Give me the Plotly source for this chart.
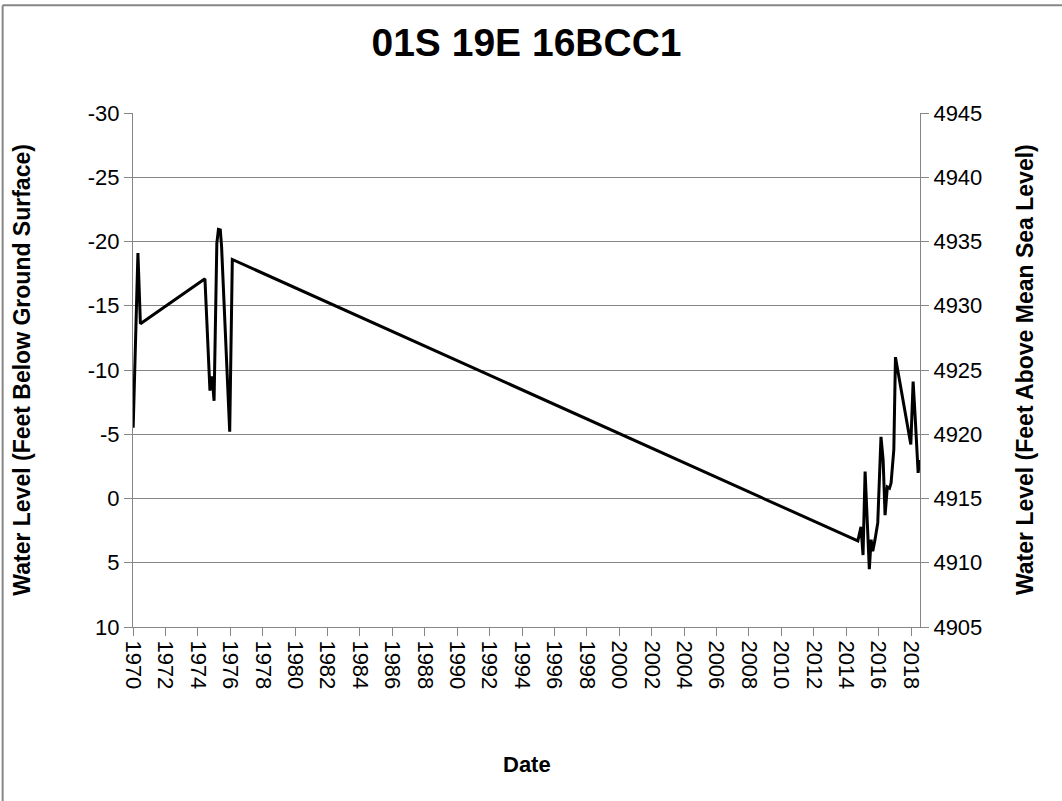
import plotly.graph_objects as go

# Water level readings (feet below ground surface)
dates = [
    "1970-01-05", "1970-04-22", "1970-06-17", "1974-06-10", "1974-10-01",
    "1974-11-18", "1975-01-02", "1975-03-05", "1975-04-10", "1975-05-22",
    "1975-06-20", "1975-12-20", "1976-02-17",
    "2014-09-20", "2014-12-01", "2015-01-15", "2015-03-03", "2015-04-16",
    "2015-06-06", "2015-07-16", "2015-08-22", "2015-10-12", "2015-12-13",
    "2016-02-24", "2016-04-12", "2016-05-26", "2016-07-16", "2016-09-02",
    "2016-10-08", "2016-12-09", "2017-01-15", "2017-12-27", "2018-02-17",
    "2018-04-08", "2018-06-10", "2018-07-08",
]
depth_ft = [
    -5.5, -19.1, -13.6, -17.1, -8.4,
    -9.5, -7.6, -19.85, -20.94, -20.9,
    -19.6, -5.2, -18.6,
    3.3, 2.2, 4.4, -2.1, 1.4,
    5.5, 3.2, 4.1, 3.2, 1.9,
    -4.8, -3.0, 1.3, -0.9, -0.8,
    -1.2, -3.8, -11.0, -4.2, -9.1,
    -6.1, -2.0, -3.0,
]
land_surface_ft = 4915
elevation_ft = [land_surface_ft - d for d in depth_ft]

depth_ticks = [-30, -25, -20, -15, -10, -5, 0, 5, 10]
depth_labels = ["-30", "-25", "-20", "-15", "-10", "-5", "0", "5", "10"]
elev_ticks = [4905, 4910, 4915, 4920, 4925, 4930, 4935, 4940, 4945]

GRID = "#868686"
FONT = "Liberation Sans, Arial, sans-serif"

# plot area in page pixels
PL, PR, PT, PB = 133.3, 920.0, 112.7, 627.0
PW, PH = PR - PL, PB - PT

fig = go.Figure()
fig.add_trace(go.Scatter(
    x=dates, y=depth_ft, mode="lines",
    line=dict(color="#000000", width=3), showlegend=False,
))
fig.add_trace(go.Scatter(
    x=dates, y=elevation_ft, mode="lines", yaxis="y2",
    line=dict(color="rgba(0,0,0,0)", width=1), showlegend=False, hoverinfo="skip",
))

fig.update_layout(
    width=1062, height=801,
    paper_bgcolor="white", plot_bgcolor="white",
    margin=dict(l=PL, r=1062 - PR, t=PT, b=801 - PB),
    font=dict(family=FONT, color="#000000"),
    title=dict(text="<b>01S 19E 16BCC1</b>", x=0.5, xref="paper", y=1 - 42 / 801,
               yanchor="middle", font=dict(size=39, family=FONT)),
    xaxis=dict(
        type="date", range=["1970-01-01", "2018-07-22"],
        tick0="1970-01-01", dtick="M24", tickformat="%Y", tickangle=90,
        showgrid=False, zeroline=False,
        showline=True, linecolor=GRID, linewidth=1,
        ticks="outside", ticklen=8, tickcolor=GRID,
        tickfont=dict(size=22), automargin=False,
    ),
    yaxis=dict(
        range=[10, -30], autorange=False,
        tickvals=depth_ticks, ticktext=depth_labels,
        showgrid=True, gridcolor=GRID, gridwidth=1, zeroline=False,
        showline=True, linecolor=GRID, linewidth=1,
        ticks="outside", ticklen=8, tickcolor=GRID,
        tickfont=dict(size=22), automargin=False,
    ),
    yaxis2=dict(
        range=[4905, 4945], tickvals=elev_ticks, overlaying="y", side="right",
        showgrid=False, zeroline=False,
        showline=True, linecolor=GRID, linewidth=1,
        ticks="outside", ticklen=8, tickcolor=GRID,
        tickfont=dict(size=22), automargin=False,
    ),
)

fig.add_annotation(text="<b>Water Level (Feet Below Ground Surface)</b>",
                   xref="paper", yref="paper", x=(22 - PL) / PW, y=0.5,
                   textangle=-90, showarrow=False, font=dict(size=23),
                   xanchor="center", yanchor="middle")
fig.add_annotation(text="<b>Water Level (Feet Above Mean Sea Level)</b>",
                   xref="paper", yref="paper", x=(1025 - PL) / PW, y=0.5,
                   textangle=-90, showarrow=False, font=dict(size=23),
                   xanchor="center", yanchor="middle")
fig.add_annotation(text="<b>Date</b>",
                   xref="paper", yref="paper", x=0.5, y=(PB - 765) / PH,
                   showarrow=False, font=dict(size=22),
                   xanchor="center", yanchor="middle")

# chart-area border (top and left edges visible)
top = (PB - 5) / PH
left = (3 - PL) / PW
fig.add_shape(type="line", xref="paper", yref="paper",
              x0=left, x1=1.3, y0=top, y1=top, line=dict(color=GRID, width=2))
fig.add_shape(type="line", xref="paper", yref="paper",
              x0=left, x1=left, y0=-0.4, y1=top, line=dict(color=GRID, width=2))

fig.write_html("out.html", config={"displayModeBar": False},
               post_script="document.body.style.margin='0px';")
